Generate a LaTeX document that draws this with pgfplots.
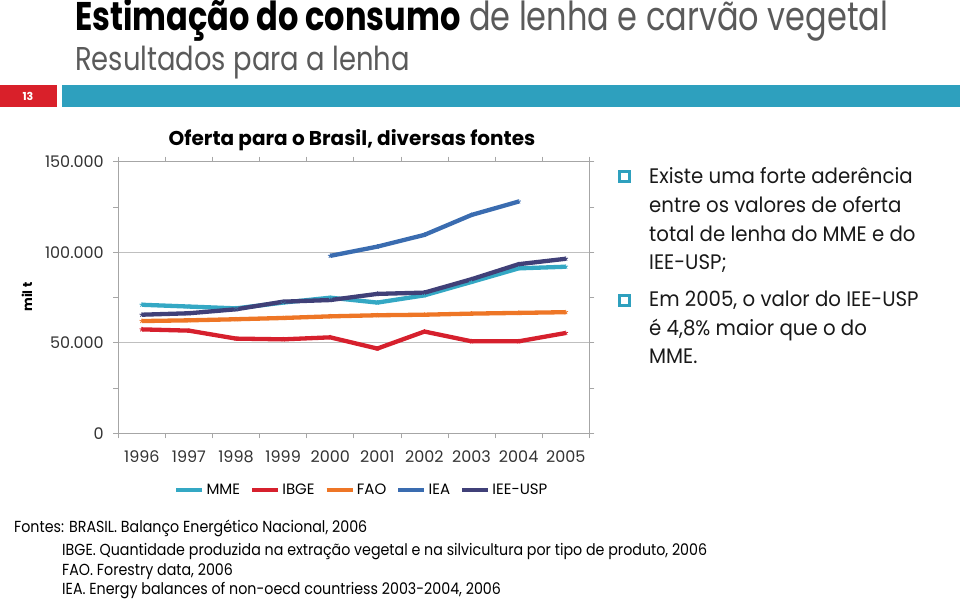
\documentclass[border=0pt]{standalone}
\usepackage{fontspec}
\setmainfont{Poppins}
\newfontfamily\tw[FakeStretch=0.94]{Poppins}
\newfontfamily\tws[FakeStretch=0.89]{Poppins}
\newfontfamily\twc[FakeStretch=0.80]{Poppins}
\newfontfamily\twd[FakeStretch=0.83]{Poppins}
\usepackage{pgfplots}
\pgfplotsset{compat=1.18}
\definecolor{cMME}{RGB}{52,168,196}
\definecolor{cIBGE}{RGB}{214,32,45}
\definecolor{cFAO}{RGB}{238,118,38}
\definecolor{cIEA}{RGB}{58,108,176}
\definecolor{cIEE}{RGB}{64,64,120}
\definecolor{teal}{RGB}{46,160,190}
\definecolor{redbox}{RGB}{217,32,42}
\definecolor{tgray}{RGB}{90,90,90}
\begin{document}
\begin{tikzpicture}
\path[use as bounding box] (0pt,0pt) rectangle (960pt,-600pt);
% header
\node[anchor=base west,inner sep=0pt] at (75pt,-30pt) {\twc\fontsize{40}{40}\selectfont\textbf{Estimação do consumo} \textcolor{tgray}{de lenha e carvão vegetal}};
\node[anchor=base west,inner sep=0pt,text=tgray] at (75pt,-70pt) {\twd\fontsize{33}{33}\selectfont Resultados para a lenha};
\fill[redbox] (0pt,-85pt) rectangle (57pt,-107pt);
\fill[teal] (62pt,-85pt) rectangle (960pt,-107pt);
\node[text=white] at (28pt,-96pt) {\fontsize{11}{11}\selectfont\bfseries 13};
% chart title
\node at (352pt,-140pt) {\fontsize{20}{20}\selectfont\bfseries Oferta para o Brasil, diversas fontes};
\node[rotate=90] at (27pt,-297pt) {\fontsize{13}{13}\selectfont\bfseries mil t};
\begin{axis}[at={(118.3pt,-433.3pt)}, anchor=south west, scale only axis,
  width=471pt, height=271.6pt,
  xmin=-0.5, xmax=9.5, ymin=0, ymax=150000,
  scaled y ticks=false,
  axis line style={gray!70, line width=0.8pt},
  xtick={0,...,9},
  xticklabels={1996,1997,1998,1999,2000,2001,2002,2003,2004,2005},
  minor xtick={-0.5,0.5,...,9.5},
  major x tick style={draw=none},
  ytick={0,50000,100000,150000},
  yticklabels={0,50.000,100.000,150.000},
  minor ytick={25000,75000,125000},
  tick align=outside, major tick length=5pt, minor tick length=5pt,
  tick style={gray!70, line width=0.8pt},
  ymajorgrids, grid style={gray!50, line width=0.8pt},
  ticklabel style={font=\fontsize{16}{16}\selectfont, text=black!80},
  xticklabel style={yshift=-9pt},
  yticklabel style={xshift=-6pt},
  legend columns=5,
  legend style={draw=none, at={(0.517,-0.209)}, anchor=center, font=\fontsize{15}{15}\selectfont, /tikz/every even column/.append style={column sep=8pt}},
  legend image code/.code={\draw[#1] (0pt,0pt) -- (26pt,0pt);},
  every axis plot/.append style={line width=4.3pt, mark=star, mark size=2.4pt, mark options={line width=0.8pt}},
]
\addplot[cMME] coordinates {(0,71000) (1,70000) (2,69000) (3,72200) (4,74900) (5,72200) (6,76200) (7,83600) (8,91100) (9,92000)};
\addlegendentry{MME}
\addplot[cIBGE] coordinates {(0,57400) (1,56700) (2,52300) (3,51900) (4,53000) (5,46800) (6,56200) (7,50800) (8,50800) (9,55400)};
\addlegendentry{IBGE}
\addplot[cFAO] coordinates {(0,62000) (1,62400) (2,63000) (3,63700) (4,64600) (5,65200) (6,65500) (7,66100) (8,66500) (9,66900)};
\addlegendentry{FAO}
\addplot[cIEA] coordinates {(4,98000) (5,103100) (6,109600) (7,120600) (8,128000)};
\addlegendentry{IEA}
\addplot[cIEE] coordinates {(0,65500) (1,66300) (2,68500) (3,72700) (4,73600) (5,77000) (6,77700) (7,85100) (8,93400) (9,96400)};
\addlegendentry{IEE-USP}
\end{axis}
% bullets
\foreach \y in {170,294} {
  \fill[teal] (618pt,-\y pt) rectangle (631pt,-\y pt-13pt);
  \fill[white] (621pt,-\y pt-3pt) rectangle (628pt,-\y pt-10pt);
}
\begin{scope}[every node/.style={anchor=base west, inner sep=0pt, text=black!90, font=\tw\fontsize{21}{21}\selectfont}]
\node at (649pt,-183.3pt) {Existe uma forte aderência};
\node at (649pt,-212.3pt) {entre os valores de oferta};
\node at (649pt,-241pt) {total de lenha do MME e do};
\node at (649pt,-269.5pt) {IEE-USP;};
\node at (649pt,-306.7pt) {Em 2005, o valor do IEE-USP};
\node at (649pt,-335pt) {é 4,8\% maior que o do};
\node at (649pt,-363.3pt) {MME.};
\end{scope}
% sources
\begin{scope}[every node/.style={anchor=base west, inner sep=0pt, text=black, font=\tws\fontsize{16}{16}\selectfont}]
\node at (14pt,-532pt) {Fontes: BRASIL. Balanço Energético Nacional, 2006};
\node at (62pt,-555pt) {IBGE. Quantidade produzida na extração vegetal e na silvicultura por tipo de produto, 2006};
\node at (62pt,-575pt) {FAO. Forestry data, 2006};
\node at (62pt,-594pt) {IEA. Energy balances of non-oecd countriess 2003-2004, 2006};
\end{scope}
\end{tikzpicture}
\end{document}
